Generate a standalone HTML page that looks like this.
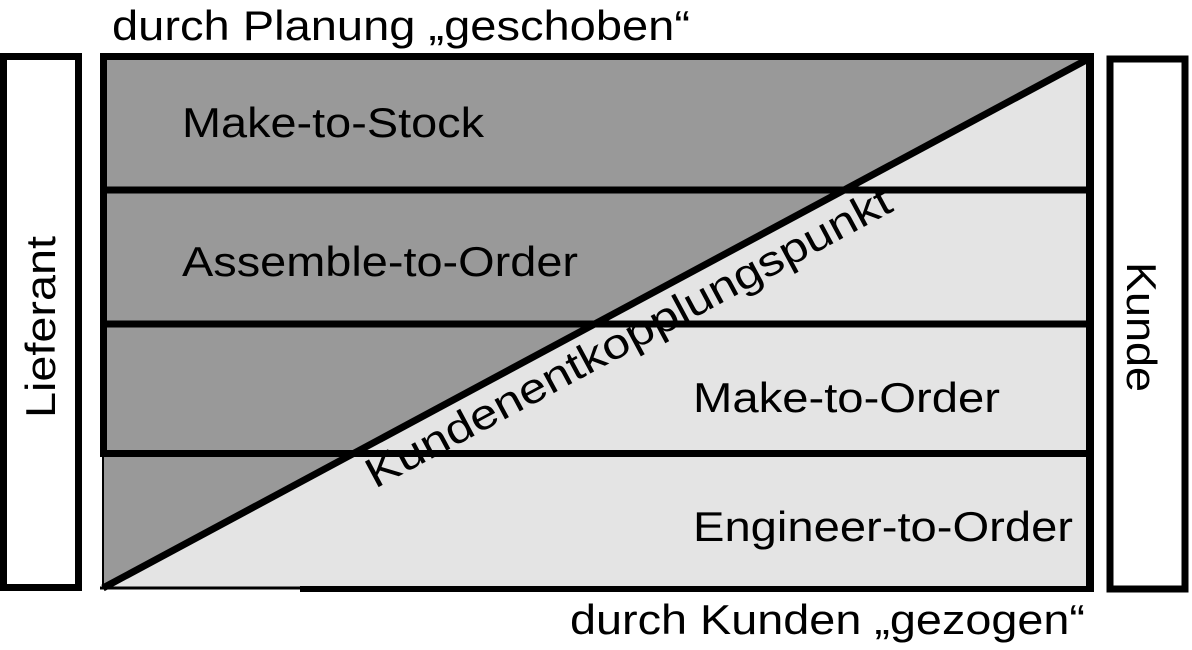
<!DOCTYPE html>
<html><head><meta charset="utf-8"><style>html,body{margin:0;padding:0;background:#fff}svg{display:block}</style></head>
<body>
<svg width="1192" height="650" viewBox="0 0 1192 650" xmlns="http://www.w3.org/2000/svg" font-family="Liberation Sans, sans-serif">
<rect x="0" y="0" width="1192" height="650" fill="#fff"/>
<rect x="103" y="56" width="987" height="532" fill="#e4e4e4"/>
<polygon points="103,56 1090,56 103,588" fill="#999"/>
<rect x="103.5" y="56.5" width="987" height="397" fill="none" stroke="#000" stroke-width="7"/>
<line x1="103" y1="190" x2="1090" y2="190" stroke="#000" stroke-width="7"/>
<line x1="103" y1="324" x2="1090" y2="324" stroke="#000" stroke-width="7"/>
<line x1="103" y1="454" x2="103" y2="588" stroke="#000" stroke-width="2"/>
<line x1="100" y1="588" x2="1094" y2="588" stroke="#000" stroke-width="3"/>
<line x1="300" y1="589" x2="1094" y2="589" stroke="#000" stroke-width="6"/>
<line x1="1090" y1="56" x2="1090" y2="592" stroke="#000" stroke-width="8"/>
<line x1="103" y1="588" x2="1090" y2="58" stroke="#000" stroke-width="7"/>
<rect x="3.5" y="56.5" width="75" height="531" fill="#fff" stroke="#000" stroke-width="7"/>
<rect x="1110" y="59" width="75" height="530" fill="#fff" stroke="#000" stroke-width="7"/>
<g font-size="42" fill="#000">
<text x="112" y="40" textLength="578" lengthAdjust="spacingAndGlyphs">durch Planung „geschoben“</text>
<text x="182" y="137" textLength="302" lengthAdjust="spacingAndGlyphs">Make-to-Stock</text>
<text x="182" y="276" textLength="396" lengthAdjust="spacingAndGlyphs">Assemble-to-Order</text>
<text x="693" y="412" textLength="307" lengthAdjust="spacingAndGlyphs">Make-to-Order</text>
<text x="693" y="541" textLength="380" lengthAdjust="spacingAndGlyphs">Engineer-to-Order</text>
<text x="570" y="634" textLength="515" lengthAdjust="spacingAndGlyphs">durch Kunden „gezogen“</text>
<text transform="translate(55,418) rotate(-90)" textLength="182" lengthAdjust="spacingAndGlyphs">Lieferant</text>
<text transform="translate(1127,262) rotate(90)" textLength="130" lengthAdjust="spacingAndGlyphs">Kunde</text>
<text transform="translate(375,489) rotate(-28.2)" textLength="590" lengthAdjust="spacingAndGlyphs">Kundenentkopplungspunkt</text>
</g>
</svg>
</body></html>
